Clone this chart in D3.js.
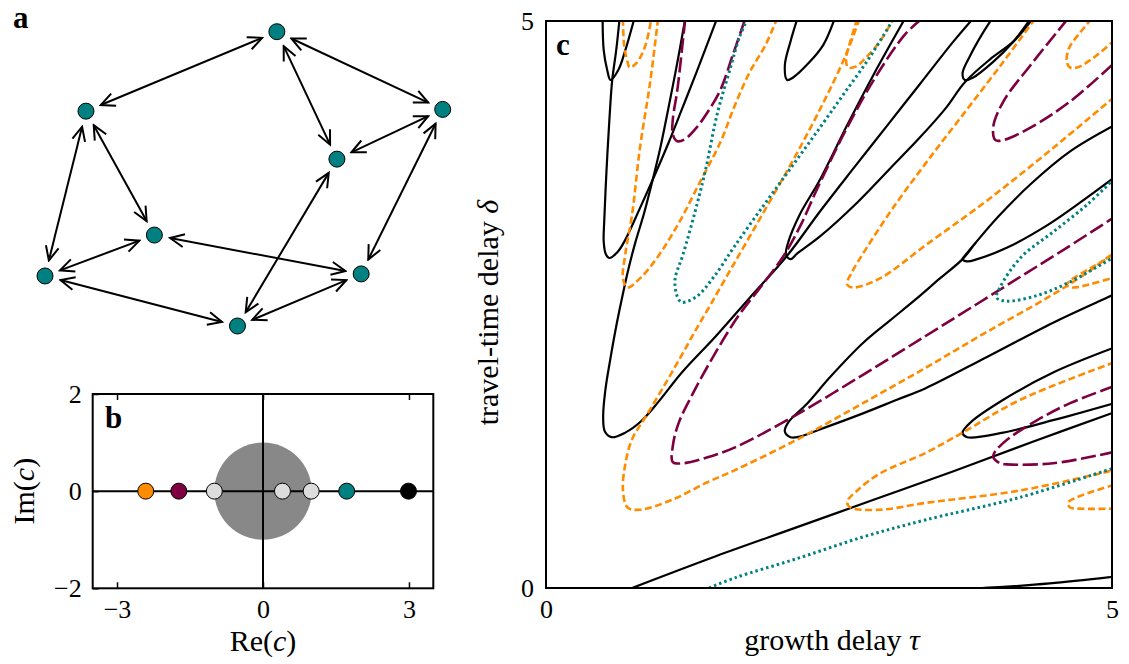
<!DOCTYPE html>
<html>
<head>
<meta charset="utf-8">
<script src="https://cdn.jsdelivr.net/npm/d3@7"></script>
<style>
body {margin: 0; background: #fff;}
svg text {font-family: "Liberation Serif", "Times New Roman", serif; fill: #000;}
.tick text {font-size: 26px;}
.axis-label {font-size: 30px;}
.panel-label {font-size: 31px; font-weight: bold;}
</style>
</head>
<body>
<svg id="fig" width="1129" height="664"></svg>
<script>
//Panel a: network layout (unit layout space) and links.
var nodeX = [0.583, 0.103, 1.0, 0.734, 0.275, 0, 0.795, 0.484];
var nodeY = [0, 0.270, 0.264, 0.433, 0.691, 0.830, 0.823, 1.0];
var links = [[0,1],[0,2],[0,3],[1,4],[1,5],[2,3],[2,6],[4,5],[4,6],[3,7],[5,7],[6,7]];

//Panel b: eigenvalues c of the coupling matrix.
var eigRe = [-2.41, -1.73, -1.0, 0.40, 0.99, 1.72, 2.99];
var eigIm = [0, 0, 0, 0, 0, 0, 0];
var eigKind = ['orange', 'maroon', 'grey', 'grey', 'grey', 'teal', 'black'];
var bTicksX = [-3, 0, 3], bTicksY = [-2, 0, 2];

//Panel c: stability boundaries, [tau, delta] pairs.
var B1 = [[0.50,5.02],[0.51,4.74],[0.54,4.57],[0.57,4.48],[0.64,4.57],[0.70,4.74],[0.78,5.02]];
var B2 = [[0.65,5.02],[0.62,4.74],[0.585,4.48],[0.56,4.13],[0.535,3.69],[0.515,3.25],[0.51,3.05],[0.53,2.94],[0.56,2.91],[0.63,2.96],[0.70,3.07],[0.83,3.35],[0.96,3.64],[1.08,3.92],[1.20,4.22],[1.33,4.55],[1.51,5.02]];
var B3 = [[1.23,5.02],[1.165,4.66],[1.095,4.30],[1.005,3.86],[0.93,3.55],[0.865,3.30],[0.79,3.05],[0.725,2.80],[0.67,2.55],[0.615,2.28],[0.565,2.0],[0.525,1.75],[0.505,1.51],[0.52,1.38],[0.58,1.33],[0.70,1.37],[0.84,1.47],[1.0,1.65],[1.2,1.90],[1.5,2.22],[1.8,2.56],[2.13,2.93],[2.42,3.32],[2.7,3.68],[3.0,4.06],[3.3,4.44],[3.6,4.82],[3.78,5.03]];
var B4 = [[3.17,5.02],[2.89,4.52],[2.66,4.08],[2.42,3.60],[2.24,3.29],[2.14,3.05],[2.12,2.94],[2.16,2.90],[2.22,2.95],[2.42,3.10],[2.75,3.40],[3.04,3.70],[3.30,3.97],[3.53,4.23],[3.70,4.46],[3.92,4.66],[4.13,4.82],[4.30,5.02]];
var B5 = [[2.22,5.02],[2.16,4.82],[2.11,4.61],[2.13,4.48],[2.18,4.50],[2.33,4.64],[2.45,4.79],[2.55,5.02]];
var B6 = [[3.94,5.02],[3.85,4.88],[3.75,4.70],[3.68,4.54],[3.70,4.48],[3.77,4.50],[3.95,4.64],[4.13,4.82],[4.28,5.02]];
var B7 = [[3.80,3.05],[3.70,2.93],[3.68,2.90],[3.72,2.88],[3.81,2.90],[4.07,3.00],[4.43,3.20],[4.72,3.40],[5.02,3.62]];
var B8 = [[5.02,2.59],[4.91,2.54],[4.48,2.34],[3.90,2.04],[3.35,1.76],[3.10,1.66],[2.80,1.54],[2.45,1.41],[2.22,1.33],[2.16,1.33],[2.11,1.38],[2.14,1.46],[2.31,1.63],[2.51,1.86],[2.80,2.16],[3.04,2.36],[3.26,2.54],[3.48,2.73],[3.68,2.90],[3.80,3.05],[4.0,3.28],[4.28,3.56],[4.63,3.85],[5.02,4.08]];
var B9 = [[5.02,2.12],[4.48,1.90],[4.04,1.66],[3.75,1.46],[3.68,1.37],[3.72,1.33],[4.04,1.37],[4.48,1.48],[5.02,1.63]];
var B10 = [[0.76,0],[1.5,0.28],[2.2,0.53],[2.9,0.78],[3.6,1.03],[4.3,1.29],[5.02,1.55]];
var B11 = [[3.85,0],[4.04,0.01],[4.45,0.04],[5.02,0.10]];

var O1 = [[0.68,5.02],[0.69,4.79],[0.72,4.64],[0.74,4.59],[0.80,4.63],[0.88,4.79],[0.93,5.02]];
var O2 = [[0.99,5.02],[0.92,4.46],[0.83,3.88],[0.76,3.29],[0.70,2.94],[0.68,2.73],[0.72,2.65],[0.83,2.73],[0.98,2.91],[1.18,3.23],[1.36,3.58],[1.54,3.93],[1.67,4.26],[1.80,4.55],[1.94,4.79],[2.04,5.02]];
var O3 = [[2.77,5.02],[2.64,4.68],[2.45,4.28],[2.22,3.84],[2.00,3.45],[1.80,3.10],[1.62,2.79],[1.46,2.51],[1.32,2.27],[1.18,2.02],[1.03,1.76],[0.88,1.51],[0.76,1.31],[0.70,1.09],[0.68,0.86],[0.72,0.71],[0.83,0.69],[1.12,0.78],[1.42,0.93],[1.67,1.04],[2.22,1.31],[2.80,1.63],[3.35,1.94],[3.88,2.25],[4.43,2.56],[4.75,2.76],[5.02,2.96]];
var O4 = [[2.75,5.02],[2.68,4.79],[2.65,4.66],[2.67,4.59],[2.74,4.60],[2.82,4.67],[2.95,4.82],[3.07,5.02]];
var O5 = [[5.02,2.94],[4.81,2.82],[4.63,2.71],[4.60,2.67],[4.65,2.65],[4.81,2.68],[5.02,2.74]];
var O6 = [[4.32,5.02],[4.04,4.64],[3.68,4.17],[3.35,3.74],[3.05,3.33],[2.82,2.98],[2.70,2.78],[2.66,2.68],[2.71,2.65],[2.95,2.73],[3.35,3.02],[3.90,3.42],[4.48,3.88],[5.02,4.33]];
var O7 = [[5.02,1.99],[4.19,1.66],[3.68,1.37],[3.35,1.19],[2.95,1.01],[2.75,0.86],[2.66,0.76],[2.69,0.71],[2.95,0.69],[3.35,0.75],[4.19,0.86],[5.02,1.04]];
var O8 = [[5.02,0.91],[4.69,0.80],[4.61,0.75],[4.63,0.71],[4.70,0.70],[5.02,0.70]];
var O9 = [[4.82,5.02],[4.72,4.90],[4.62,4.76],[4.60,4.64],[4.63,4.59],[4.69,4.59],[4.83,4.67],[5.02,4.83]];

var M1 = [[1.23,5.02],[1.20,4.74],[1.16,4.39],[1.12,4.13],[1.12,4.00],[1.16,3.94],[1.23,3.96],[1.33,4.06],[1.43,4.20],[1.54,4.39],[1.65,4.70],[1.76,5.02]];
var M2 = [[3.32,5.02],[3.17,4.88],[2.92,4.52],[2.66,4.06],[2.40,3.53],[2.25,3.20],[2.10,2.93],[1.90,2.66],[1.70,2.40],[1.50,2.08],[1.30,1.72],[1.17,1.45],[1.12,1.25],[1.12,1.11],[1.21,1.10],[1.42,1.15],[1.67,1.24],[2.2,1.52],[2.8,1.88],[3.35,2.22],[3.8,2.50],[4.2,2.75],[4.6,3.00],[5.02,3.27]];
var M3 = [[4.61,5.02],[4.28,4.61],[4.04,4.29],[3.95,4.06],[3.97,3.95],[4.04,3.95],[4.28,4.06],[4.63,4.29],[5.02,4.63]];
var M4 = [[5.02,1.78],[4.63,1.63],[4.34,1.48],[4.04,1.28],[3.95,1.16],[4.01,1.10],[4.07,1.09],[4.48,1.10],[5.02,1.20]];

var T1 = [[1.78,5.02],[1.71,4.86],[1.63,4.59],[1.51,4.17],[1.41,3.69],[1.32,3.33],[1.21,2.94],[1.14,2.72],[1.16,2.57],[1.20,2.52],[1.33,2.57],[1.48,2.74],[1.67,3.02],[1.92,3.37],[2.16,3.70],[2.42,4.06],[2.64,4.37],[2.86,4.68],[3.07,5.02]];
var T2 = [[5.02,3.61],[4.78,3.38],[4.48,3.14],[4.19,2.91],[4.01,2.65],[3.98,2.56],[4.07,2.53],[4.34,2.58],[4.63,2.70],[5.02,2.92]];
var T3 = [[1.44,0],[1.67,0.09],[2.22,0.26],[2.80,0.45],[3.35,0.60],[4.19,0.80],[5.02,1.06]];

var blackCurves = [B1, B2, B3, B4, B5, B6, B7, B8, B9, B10, B11];
var orangeCurves = [O1, O2, O3, O4, O5, O6, O7, O8, O9];
var maroonCurves = [M1, M2, M3, M4];
var tealCurves = [T1, T2, T3];
var cTicks = [0, 5];

var colors = {orange: '#ff8c00', maroon: '#7f0040', teal: '#008080', grey: '#dcdcdc', black: '#000000'};

var svg = d3.select('#fig');
var fmt = d3.format('d');

//---------- Panel a ----------
var aX = d3.scaleLinear().domain([0, 1]).range([45, 442.7]);
var aY = d3.scaleLinear().domain([0, 1]).range([31.7, 326]);
var defs = svg.append('defs');
defs.append('marker')
	.attr('id', 'arrow')
	.attr('viewBox', '-16 -8 18 16')
	.attr('refX', 0).attr('refY', 0)
	.attr('markerWidth', 18).attr('markerHeight', 16)
	.attr('markerUnits', 'userSpaceOnUse')
	.attr('orient', 'auto-start-reverse')
	.append('path')
	.attr('d', 'M-14,-6.5L0,0L-14,6.5')
	.attr('fill', 'none')
	.attr('stroke', '#000')
	.attr('stroke-width', 2);

var gap = 16;
var gA = svg.append('g');
links.forEach(function(l) {
	var x1 = aX(nodeX[l[0]]), y1 = aY(nodeY[l[0]]), x2 = aX(nodeX[l[1]]), y2 = aY(nodeY[l[1]]);
	var len = Math.hypot(x2 - x1, y2 - y1), ux = (x2 - x1) / len, uy = (y2 - y1) / len;
	gA.append('line')
		.attr('x1', x1 + ux * gap).attr('y1', y1 + uy * gap)
		.attr('x2', x2 - ux * gap).attr('y2', y2 - uy * gap)
		.attr('stroke', '#000').attr('stroke-width', 2)
		.attr('marker-start', 'url(#arrow)').attr('marker-end', 'url(#arrow)');
});
gA.selectAll('circle.node').data(nodeX).enter().append('circle')
	.attr('class', 'node')
	.attr('cx', function(d) { return aX(d); })
	.attr('cy', function(d, i) { return aY(nodeY[i]); })
	.attr('r', 8)
	.attr('fill', colors.teal).attr('stroke', '#000').attr('stroke-width', 1);
svg.append('text').attr('class', 'panel-label').attr('x', 13).attr('y', 28).text('a');

//---------- Panel b ----------
var bX = d3.scaleLinear().domain([-3.5, 3.5]).range([92.7, 433.3]);
var bY = d3.scaleLinear().domain([-2, 2]).range([588.3, 394]);
var gB = svg.append('g');
gB.append('circle')
	.attr('cx', bX(0)).attr('cy', bY(0))
	.attr('r', bX(1) - bX(0))
	.attr('fill', '#888888');
gB.append('line').attr('x1', bX(-3.5)).attr('x2', bX(3.5)).attr('y1', bY(0)).attr('y2', bY(0))
	.attr('stroke', '#000').attr('stroke-width', 2);
gB.append('line').attr('x1', bX(0)).attr('x2', bX(0)).attr('y1', bY(-2)).attr('y2', bY(2))
	.attr('stroke', '#000').attr('stroke-width', 2);
gB.selectAll('circle.eig').data(eigRe).enter().append('circle')
	.attr('class', 'eig')
	.attr('cx', function(d) { return bX(d); })
	.attr('cy', function(d, i) { return bY(eigIm[i]); })
	.attr('r', 8)
	.attr('fill', function(d, i) { return colors[eigKind[i]]; })
	.attr('stroke', '#000').attr('stroke-width', 1);
//Axes with inward ticks.
function styleAxis(g) {
	g.select('.domain').remove();
	g.selectAll('.tick line').attr('stroke', '#000').attr('stroke-width', 1.5);
}
gB.append('g').attr('transform', 'translate(0,' + bY(-2) + ')')
	.call(d3.axisBottom(bX).tickValues(bTicksX).tickFormat(fmt).tickSizeInner(-6).tickSizeOuter(0).tickPadding(11))
	.call(styleAxis);
gB.append('g').attr('transform', 'translate(0,' + bY(2) + ')')
	.call(d3.axisTop(bX).tickValues(bTicksX).tickSizeInner(-6).tickSizeOuter(0).tickFormat(''))
	.call(styleAxis);
gB.append('g').attr('transform', 'translate(' + bX(-3.5) + ',0)')
	.call(d3.axisLeft(bY).tickValues(bTicksY).tickFormat(fmt).tickSizeInner(-6).tickSizeOuter(0).tickPadding(11))
	.call(styleAxis);
gB.append('rect')
	.attr('x', bX(-3.5)).attr('y', bY(2))
	.attr('width', bX(3.5) - bX(-3.5)).attr('height', bY(-2) - bY(2))
	.attr('fill', 'none').attr('stroke', '#000').attr('stroke-width', 2);
var reLabel = gB.append('text').attr('class', 'axis-label')
	.attr('x', bX(0)).attr('y', 651).attr('text-anchor', 'middle');
reLabel.append('tspan').text('Re(');
reLabel.append('tspan').style('font-style', 'italic').text('c');
reLabel.append('tspan').text(')');
var imLabel = gB.append('text').attr('class', 'axis-label')
	.attr('transform', 'translate(34,' + bY(0) + ') rotate(-90)').attr('text-anchor', 'middle');
imLabel.append('tspan').text('Im(');
imLabel.append('tspan').style('font-style', 'italic').text('c');
imLabel.append('tspan').text(')');
svg.append('text').attr('class', 'panel-label').attr('x', 105).attr('y', 428).text('b');

//---------- Panel c ----------
var cX = d3.scaleLinear().domain([0, 5]).range([546, 1112]);
var cY = d3.scaleLinear().domain([0, 5]).range([588, 21]);
defs.append('clipPath').attr('id', 'clipC').append('rect')
	.attr('x', cX(0)).attr('y', cY(5))
	.attr('width', cX(5) - cX(0)).attr('height', cY(0) - cY(5));
var curve = d3.line()
	.x(function(d) { return cX(d[0]); })
	.y(function(d) { return cY(d[1]); })
	.curve(d3.curveCatmullRom.alpha(0.5));
var gC = svg.append('g').attr('clip-path', 'url(#clipC)');
function drawFamily(data, color, dash, width) {
	gC.append('g').selectAll('path').data(data).enter().append('path')
		.attr('d', curve)
		.attr('fill', 'none')
		.attr('stroke', color)
		.attr('stroke-width', width)
		.attr('stroke-dasharray', dash);
}
drawFamily(blackCurves, colors.black, null, 2.2);
drawFamily(orangeCurves, colors.orange, '7,3.5', 2.6);
drawFamily(maroonCurves, colors.maroon, '15,4.5', 2.6);
drawFamily(tealCurves, colors.teal, '2.5,3', 3);

svg.append('g').attr('transform', 'translate(0,' + cY(0) + ')')
	.call(d3.axisBottom(cX).tickValues(cTicks).tickFormat(fmt).tickSize(0).tickPadding(12))
	.call(styleAxis);
svg.append('g').attr('transform', 'translate(' + cX(0) + ',0)')
	.call(d3.axisLeft(cY).tickValues(cTicks).tickFormat(fmt).tickSize(0).tickPadding(12))
	.call(styleAxis);
svg.selectAll('.tick text').attr('font-size', 26).style('font-family', '"Liberation Serif", serif');
svg.append('rect')
	.attr('x', cX(0)).attr('y', cY(5))
	.attr('width', cX(5) - cX(0)).attr('height', cY(0) - cY(5))
	.attr('fill', 'none').attr('stroke', '#000').attr('stroke-width', 2);
var tauLabel = svg.append('text').attr('class', 'axis-label')
	.attr('x', cX(2.5) + 3).attr('y', 650).attr('text-anchor', 'middle');
tauLabel.append('tspan').text('growth delay ');
tauLabel.append('tspan').style('font-style', 'italic').text('τ');
var deltaLabel = svg.append('text').attr('class', 'axis-label')
	.attr('transform', 'translate(498,' + (cY(2.5) + 8) + ') rotate(-90)').attr('text-anchor', 'middle');
deltaLabel.append('tspan').text('travel-time delay ');
deltaLabel.append('tspan').style('font-style', 'italic').text('δ');
svg.append('text').attr('class', 'panel-label').attr('x', 556).attr('y', 55).text('c');
</script>
</body>
</html>
